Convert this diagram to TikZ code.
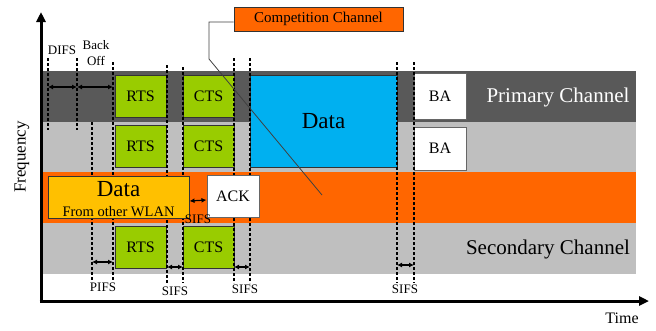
\documentclass[tikz,border=0pt]{standalone}
\usepackage{fontspec}
\setmainfont{Liberation Serif}
\usetikzlibrary{arrows.meta}
\definecolor{primgray}{HTML}{595959}
\definecolor{secgray}{HTML}{BFBFBF}
\definecolor{comporange}{HTML}{FF6600}
\definecolor{ctrlgreen}{HTML}{99CC00}
\definecolor{datablue}{HTML}{00B0F0}
\definecolor{wlanyellow}{HTML}{FFC000}

\begin{document}
\begin{tikzpicture}[x=1pt,y=-1pt,
    frame/.style={draw=black!80,line width=1pt,inner sep=0pt,align=center,
        font=\fontsize{16}{18}\selectfont},
    ctrl/.style={frame,fill=ctrlgreen,minimum width=51pt,minimum height=42pt},
    ackbox/.style={frame,draw=black!60,fill=white,minimum width=52pt},
    guide/.style={dash pattern=on 3pt off 2pt,line width=1.2pt},
    span/.style={{Latex[length=5pt,width=5pt]}-{Latex[length=5pt,width=5pt]},line width=1.2pt},
    axis/.style={-{Triangle[length=10pt,width=9pt]},line width=3pt},
    small/.style={font=\fontsize{13}{16}\selectfont,inner sep=0pt},
    chan/.style={font=\fontsize{21}{24}\selectfont,inner sep=0pt}]
    \useasboundingbox (0,0) rectangle (656,330);

    % channel bands
    \fill[primgray] (43,71) rectangle (636,122);
    \fill[secgray] (43,122) rectangle (636,172);
    \fill[comporange] (43,172) rectangle (636,223);
    \fill[secgray] (43,223) rectangle (636,274);

    % axes
    \draw[axis] (41,302) -- (41,12);
    \draw[axis] (39.5,301) -- (649,301);
    \node[font=\fontsize{17}{20}\selectfont,rotate=90] (freq) at (22,157) {Frequency};
    \node[font=\fontsize{16}{19}\selectfont] (time) at (622,318) {Time};

    % frames
    \node[ctrl] (rtsA) at (140.5,96) {RTS};
    \node[ctrl] (ctsA) at (208.5,96) {CTS};
    \node[ctrl] (rtsB) at (140.5,146) {RTS};
    \node[ctrl] (ctsB) at (208.5,146) {CTS};
    \node[ctrl] (rtsC) at (140.5,247) {RTS};
    \node[ctrl] (ctsC) at (208.5,247) {CTS};
    \node[frame,fill=datablue,minimum width=147pt,minimum height=92pt,
        font=\fontsize{23}{26}\selectfont] (data) at (323.5,121) {Data};
    \node[ackbox,minimum height=46pt] (baA) at (440,96) {BA};
    \node[ackbox,minimum height=43pt] (baB) at (440,148.5) {BA};

    % channel names
    \node[chan,text=white] (primary) at (558,97) {Primary Channel};
    \node[chan] (secondary) at (548,249) {Secondary Channel};

    % time marks
    \foreach \x/\a/\b in {48/58/130, 77/58/130, 113/62/280, 92/122/280, 167/65/283,
        183/67/283, 234/58/283, 250/58/283, 397/62/283, 414/62/283}
        \draw[guide] (\x,\a) -- (\x,\b);

    % frames of the other WLAN, over the marks
    \node[ackbox,minimum height=42pt] (ack) at (233,196) {ACK};
    \node[frame,fill=wlanyellow,minimum width=141pt,minimum height=42pt] (other) at (118.5,197) {};
    \node[font=\fontsize{23}{26}\selectfont,inner sep=0pt] (otherdata) at (118.5,189) {Data};
    \node[font=\fontsize{14.5}{17}\selectfont,inner sep=0pt] (otherwlan) at (118.5,212) {From other WLAN};

    % intervals
    \draw[span] (48,87) -- (77,87);
    \draw[span] (77,87) -- (113,87);
    \draw[span] (92,262) -- (113,262);
    \draw[span] (167,267) -- (183,267);
    \draw[span] (234,267) -- (250,267);
    \draw[span] (397,265) -- (414,265);
    \draw[span] ([yshift=-4pt]other.east) -- ([yshift=-4pt]ack.west);

    \node[small] (difs) at (62,50) {DIFS};
    \node[small,align=center] (backoff) at (96,53) {Back\\Off};
    \node[small] (pifs) at (103,287) {PIFS};
    \node[small] (sifsA) at (175,291) {SIFS};
    \node[small] (sifsB) at (245,289) {SIFS};
    \node[small] (sifsC) at (405,289) {SIFS};
    \node[small] (sifsD) at (198,219) {SIFS};

    % competition channel callout
    \node[frame,fill=comporange,minimum width=169pt,minimum height=24pt,
        font=\fontsize{15}{18}\selectfont] (comp) at (318.5,19) {Competition Channel};
    \coordinate (comptip) at (322,195);
    \draw[black!75,line width=0.8pt] ([yshift=-3pt]comp.west) -| (209,59) -- (comptip);
\end{tikzpicture}
\end{document}
